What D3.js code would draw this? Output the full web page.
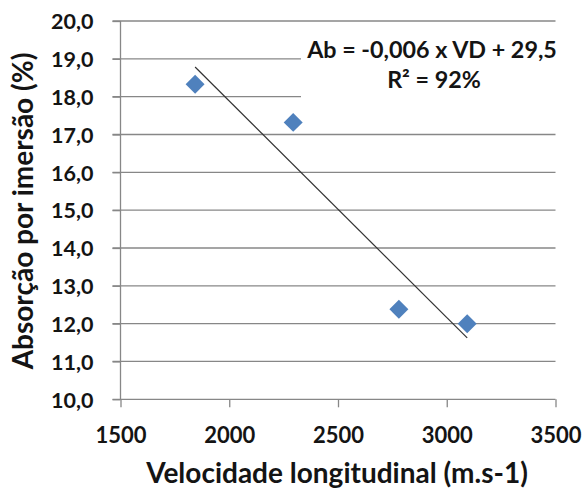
<!DOCTYPE html>
<html>
<head>
<meta charset="utf-8">
<script src="https://cdn.jsdelivr.net/npm/d3@7"></script>
<style>
  html, body { margin: 0; padding: 0; background: #fff; }
  svg { display: block; }
  text { font-family: Lato, "Open Sans", sans-serif; font-weight: bold; fill: #141414; }
</style>
</head>
<body>
<svg id="chart" width="584" height="488"></svg>
<script>
// Data
const velocidade = [1843, 2294, 2780, 3094];
const absorcao = [18.33, 17.32, 12.38, 12.0];
const xTicks = [1500, 2000, 2500, 3000, 3500];
const yTicks = [10, 11, 12, 13, 14, 15, 16, 17, 18, 19, 20];
const equationLines = ["Ab = -0,006 x VD + 29,5", "R² = 92%"];
const xTitle = "Velocidade longitudinal (m.s-1)";
const yTitle = "Absorção por imersão (%)";

const svg = d3.select("#chart");
const margin = { left: 120.5, right: 28.5, top: 21, bottom: 88.7 };
const W = 584, H = 488;

const x = d3.scaleLinear().domain([1500, 3500]).range([margin.left, W - margin.right]);
const y = d3.scaleLinear().domain([10, 20]).range([H - margin.bottom, margin.top]);

const grid = "#878787";
const fmtY = d => d.toFixed(1).replace(".", ",");

// horizontal gridlines (including ticks outside the axis)
svg.append("g").selectAll("line").data(yTicks.filter(d => d > 10)).join("line")
  .attr("x1", x(1500) - 8).attr("x2", x(3500))
  .attr("y1", d => y(d)).attr("y2", d => y(d))
  .attr("stroke", grid).attr("stroke-width", 1.3);

// y axis
const yAxis = d3.axisLeft(y).tickValues(yTicks).tickSize(8).tickFormat(fmtY);
const gy = svg.append("g").attr("transform", `translate(${x(1500)},0)`).call(yAxis);
gy.selectAll(".tick line").attr("stroke", grid).attr("stroke-width", 1.3);
gy.selectAll(".tick text").attr("x", -27).attr("dy", "0.36em")
  .style("font-size", "21.5px").style("fill", "#141414");

// x axis
const xAxis = d3.axisBottom(x).tickValues(xTicks).tickSize(8).tickFormat(d3.format("d"));
const gx = svg.append("g").attr("transform", `translate(0,${y(10)})`).call(xAxis);
gx.selectAll(".tick line").attr("stroke", grid).attr("stroke-width", 1.3);
gx.selectAll(".tick text").attr("y", 28).attr("dy", "0.71em")
  .style("font-size", "22px").style("fill", "#141414");
gy.select(".domain").remove();
gx.select(".domain").remove();
svg.append("line").attr("x1", x(1500)).attr("x2", x(1500)).attr("y1", y(20)).attr("y2", y(10))
  .attr("stroke", grid).attr("stroke-width", 1.3);
svg.append("line").attr("x1", x(1500) - 8).attr("x2", x(3500)).attr("y1", y(10)).attr("y2", y(10))
  .attr("stroke", grid).attr("stroke-width", 1.3);

// linear regression trendline over data range
const n = velocidade.length;
const mx = d3.mean(velocidade), my = d3.mean(absorcao);
let sxy = 0, sxx = 0;
for (let i = 0; i < n; i++) { sxy += (velocidade[i] - mx) * (absorcao[i] - my); sxx += (velocidade[i] - mx) ** 2; }
const slope = sxy / sxx, icpt = my - slope * mx;
const xr = d3.extent(velocidade);
svg.append("line")
  .attr("x1", x(xr[0])).attr("y1", y(icpt + slope * xr[0]))
  .attr("x2", x(xr[1])).attr("y2", y(icpt + slope * xr[1]))
  .attr("stroke", "#333").attr("stroke-width", 1.2);

// markers
const pts = velocidade.map((v, i) => ({ v, a: absorcao[i] }));
svg.append("g").selectAll("path").data(pts).join("path")
  .attr("d", d3.symbol(d3.symbolSquare, 180))
  .attr("transform", d => `translate(${x(d.v)},${y(d.a)}) rotate(45)`)
  .attr("fill", "#4F81BD");

// equation label with white background
svg.append("rect").attr("x", 301).attr("y", 38).attr("width", 262).attr("height", 62).attr("fill", "#fff");
svg.append("text").attr("x", 432).attr("y", 58).attr("text-anchor", "middle")
  .style("font-size", "23.3px").text(equationLines[0]);
svg.append("text").attr("x", 434).attr("y", 88).attr("text-anchor", "middle")
  .style("font-size", "23.3px").text(equationLines[1]);

// axis titles
svg.append("text").attr("x", 337).attr("y", 483).attr("text-anchor", "middle")
  .style("font-size", "28px").text(xTitle);
svg.append("text").attr("transform", "translate(33,211) rotate(-90)").attr("text-anchor", "middle")
  .style("font-size", "28px").text(yTitle);
</script>
</body>
</html>
